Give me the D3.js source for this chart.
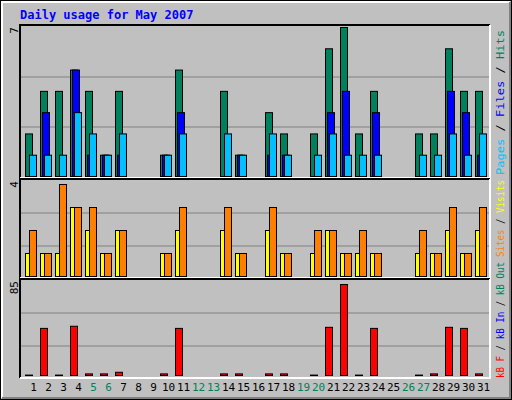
<!DOCTYPE html><html><head><meta charset="utf-8"><script src="https://cdn.jsdelivr.net/npm/d3@7"></script>
<style>body{margin:0;background:#fff}text{font-family:"DejaVu Sans Mono",monospace}</style></head><body><svg id="c" width="512" height="400"></svg>
<script>
const days = d3.range(1,32);
const weekend = [5,6,12,13,19,20,26,27];
const hits  = [2,4,4,5,4,1,4,0,0,1,5,0,0,4,1,0,3,2,0,2,6,7,2,4,0,0,2,2,6,4,4];
const files = [0,3,0,5,1,1,1,0,0,1,3,0,0,0,1,0,1,1,0,0,3,4,0,3,0,0,0,0,4,3,1];
const pages = [1,1,1,3,2,1,2,0,0,1,2,0,0,2,1,0,2,1,0,1,2,1,1,1,0,0,1,1,2,1,2];
const visits= [1,1,1,3,2,1,2,0,0,1,2,0,0,2,1,0,2,1,0,1,2,1,1,1,0,0,1,1,2,1,2];
const sites = [2,1,4,3,3,1,2,0,0,1,3,0,0,3,1,0,3,1,0,2,2,1,2,1,0,0,2,1,3,1,3];
const kbF   = [0.4,44,0.4,46,1.5,1.5,3,0,0,1.5,44,0,0,1.5,1.5,0,1.5,1.5,0,0.4,45,85,0.4,44,0,0,0.4,1.5,45,44,1.5];
const maxLabels = ["7","4","85"];

const svg = d3.select("#c");
svg.append("rect").attr("width",512).attr("height",400).attr("fill","#c0c0c0");
svg.append("rect").attr("x",0.5).attr("y",0.5).attr("width",511).attr("height",399).attr("fill","none").attr("stroke","#000");
svg.append("path").attr("d","M2,398V2H510").attr("fill","none").attr("stroke","#fff").attr("stroke-width",2);
svg.append("path").attr("d","M2,398H510V2").attr("fill","none").attr("stroke","#808080").attr("stroke-width",2);
svg.append("text").attr("x",20).attr("y",19).attr("fill","#0000ff").attr("font-weight","bold").attr("font-size",12).text("Daily usage for May 2007");

const x = d3.scaleLinear().domain([1,31]).range([25,475]);
const panels = [
 {y0:25,y1:178,top:27,base:176,max:7,grid:[77,127]},
 {y0:179,y1:278,top:184,base:276,max:4,grid:[213,246]},
 {y0:279,y1:378,top:284,base:375,max:85,grid:[313,346]}
];
panels.forEach((p,i)=>{
  svg.append("path").attr("d",`M20,${p.y1}V${p.y0}H490`).attr("fill","none").attr("stroke","#000").attr("stroke-width",2);
  svg.append("path").attr("d",`M20,${p.y1}H490V${p.y0}`).attr("fill","none").attr("stroke","#fff").attr("stroke-width",2);
  p.grid.forEach(g=>svg.append("line").attr("x1",21).attr("x2",489).attr("y1",g).attr("y2",g).attr("stroke","#808080"));
  p.y = d3.scaleLinear().domain([0,p.max]).range([p.base,p.top]);
  svg.append("text").attr("transform",`translate(18,${p.y0+2}) rotate(-90)`).attr("text-anchor","end").attr("font-size",11).text(maxLabels[i]);
});
function bars(data,p,off,w,color){
  svg.append("g").selectAll("rect").data(days.filter((d,i)=>data[i]>0)).join("rect")
   .attr("x",d=>x(d)+off+0.5).attr("width",w)
   .attr("y",d=>p.y(data[d-1])+0.5).attr("height",d=>Math.max(0.5,p.base-p.y(data[d-1])))
   .attr("fill",color).attr("stroke","#000");
}
bars(hits,panels[0],0,7,"#00805c");
bars(files,panels[0],2,7,"#0000ff");
bars(pages,panels[0],4,7,"#00c0ff");
bars(visits,panels[1],0,7,"#ffff00");
bars(sites,panels[1],4,7,"#ff8000");
bars(kbF,panels[2],0,7,"#ff0000");

svg.append("g").selectAll("text").data(days).join("text")
 .attr("x",d=>x(d)+8.5).attr("y",391).attr("text-anchor","middle").attr("font-size",11)
 .attr("fill",d=>weekend.includes(d)?"#00805c":"#000").text(d=>d);

function sideLabel(parts,yBottom,len){
  const t = svg.append("text").attr("transform",`translate(504,${yBottom}) rotate(-90)`).attr("font-size",11)
    .attr("textLength",len).attr("lengthAdjust","spacingAndGlyphs");
  parts.forEach(([s,c])=>t.append("tspan").attr("fill",c).text(s));
}
sideLabel([["Pages","#00c0ff"],[" / ","#000"],["Files","#0000ff"],[" / ","#000"],["Hits","#00805c"]],175,145);
sideLabel([["Sites","#ff8000"],[" / ","#000"],["Visits","#ffff00"]],257,77);
sideLabel([["kB F","#ff0000"],[" / ","#000"],["kB In","#0000ff"],[" / ","#000"],["kB Out","#00805c"]],378,116);
</script></body></html>
